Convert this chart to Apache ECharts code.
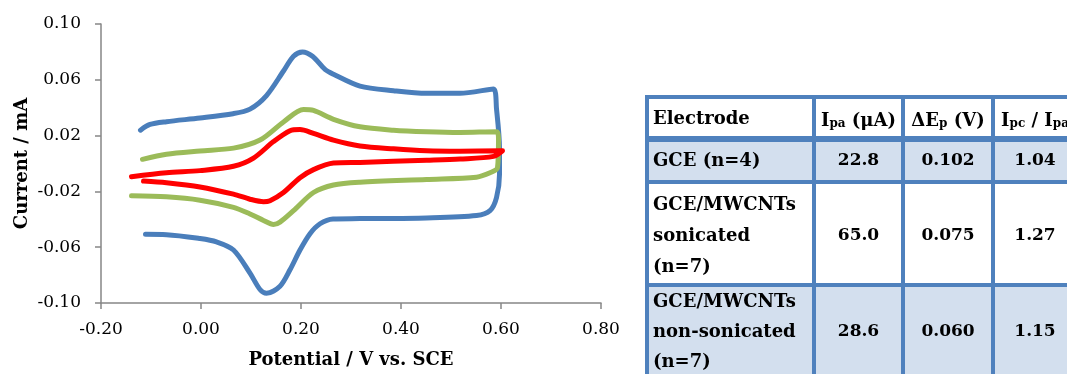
<!DOCTYPE html>
<html>
<head>
<meta charset="utf-8">
<script src="https://cdn.jsdelivr.net/npm/echarts@6/dist/echarts.min.js"></script>
<style>
html,body{margin:0;padding:0;background:#fff;}
#c{width:1067px;height:374px;}
</style>
</head>
<body>
<div id="c"></div>
<script>
// ---- CV data (Potential V vs SCE, Current mA) ----
const blueE = [-0.121, -0.102, -0.069, -0.002, 0.064, 0.098, 0.131, 0.165, 0.185, 0.203, 0.223, 0.248, 0.265, 0.318, 0.385, 0.451, 0.518, 0.585, 0.591, 0.597, 0.597, 0.591, 0.578, 0.551, 0.451, 0.318, 0.264, 0.238, 0.218, 0.198, 0.178, 0.158, 0.131, 0.118, 0.098, 0.065, 0.031, -0.002, -0.069, -0.111];
const blueI = [0.0239, 0.028, 0.030, 0.0326, 0.0357, 0.039, 0.0487, 0.0663, 0.0769, 0.080, 0.0769, 0.0675, 0.064, 0.0555, 0.0522, 0.0503, 0.0503, 0.0534, 0.0392, 0.011, -0.0079, -0.0244, -0.0338, -0.0373, -0.039, -0.0395, -0.0397, -0.0432, -0.0503, -0.062, -0.0762, -0.088, -0.0931, -0.0903, -0.0786, -0.062, -0.0562, -0.0538, -0.051, -0.0508];

const greenE = [-0.117, -0.069, -0.002, 0.065, 0.118, 0.165, 0.205, 0.225, 0.265, 0.318, 0.385, 0.451, 0.518, 0.591, 0.595, 0.593, 0.578, 0.551, 0.451, 0.318, 0.265, 0.225, 0.185, 0.158, 0.145, 0.125, 0.098, 0.065, -0.002, -0.069, -0.139];
const greenI = [0.003, 0.0067, 0.009, 0.011, 0.0168, 0.0298, 0.0387, 0.038, 0.0317, 0.0263, 0.0239, 0.0228, 0.0223, 0.0228, 0.018, -0.003, -0.0067, -0.0098, -0.0114, -0.0134, -0.0154, -0.0208, -0.0338, -0.042, -0.0437, -0.0408, -0.0362, -0.0314, -0.0263, -0.0239, -0.0232];

const redE = [-0.139, -0.069, -0.002, 0.065, 0.105, 0.145, 0.178, 0.198, 0.225, 0.265, 0.318, 0.385, 0.451, 0.518, 0.603, 0.585, 0.518, 0.451, 0.318, 0.265, 0.225, 0.198, 0.165, 0.138, 0.125, 0.098, 0.065, -0.002, -0.069, -0.115];
const redI = [-0.0095, -0.0067, -0.0051, -0.002, 0.0039, 0.0157, 0.0235, 0.0244, 0.0216, 0.0168, 0.0126, 0.0105, 0.0091, 0.0088, 0.0091, 0.0051, 0.0032, 0.0023, 0.0008, 0.0003, -0.0044, -0.0102, -0.0208, -0.0267, -0.0274, -0.0256, -0.022, -0.0168, -0.0138, -0.0126];

// ---- table data ----
const tableHeader = ['Electrode', 'I|pa| (μA)', 'ΔE|p| (V)', 'I|pc| / I|pa'];
const electrodes = ['GCE (n=4)', 'GCE/MWCNTs\nsonicated\n(n=7)', 'GCE/MWCNTs\nnon-sonicated\n(n=7)'];
const ipaVals = ['22.8', '65.0', '28.6'];
const dEpVals = ['0.102', '0.075', '0.060'];
const ratioVals = ['1.04', '1.27', '1.15'];

function pairs(xs, ys) { return xs.map((x, i) => [x, ys[i]]); }

const FONT = 'DejaVu Serif';
const chart = echarts.init(document.getElementById('c'), null, {renderer: 'canvas'});

// table geometry
const colX = [647, 814, 903, 993, 1077];
const rowY = [97, 139, 182, 285, 390];
const border = '#4f81bd';
const fillBlue = '#d3dfee';
const graphics = [];
const rowFill = ['#ffffff', fillBlue, '#ffffff', fillBlue];
for (let r = 0; r < 4; r++) {
  graphics.push({type: 'rect', silent: true, z: 1,
    shape: {x: colX[0], y: rowY[r], width: colX[4] - colX[0], height: rowY[r + 1] - rowY[r]},
    style: {fill: rowFill[r]}});
}
rowY.forEach((y, i) => {
  graphics.push({type: 'line', silent: true, z: 2,
    shape: {x1: colX[0] - 2, y1: y, x2: colX[4] + 2, y2: y},
    style: {stroke: border, lineWidth: i === 1 ? 6 : 4}});
});
colX.forEach((x) => {
  graphics.push({type: 'line', silent: true, z: 2,
    shape: {x1: x, y1: rowY[0] - 2, x2: x, y2: rowY[4]},
    style: {stroke: border, lineWidth: 4}});
});
function headerRich(s) {
  const parts = s.split('|');
  return parts.map((p, i) => (i % 2 === 1 ? '{s|' + p + '}' : '{n|' + p + '}')).join('');
}
const rich = {
  n: {fontFamily: FONT, fontSize: 18, fontWeight: 'bold', lineHeight: 24, verticalAlign: 'bottom', fill: '#000'},
  s: {fontFamily: FONT, fontSize: 12, fontWeight: 'bold', lineHeight: 14, verticalAlign: 'bottom', fill: '#000'}
};
function addText(text, x, y, align, lh, size, useRich) {
  const style = {
    text: text, x: x, y: y, fill: '#000',
    font: 'bold ' + size + 'px "' + FONT + '"',
    fontFamily: FONT, fontSize: size, fontWeight: 'bold',
    align: align, textAlign: align, verticalAlign: 'middle', textVerticalAlign: 'middle',
    lineHeight: lh
  };
  if (useRich) style.rich = rich;
  graphics.push({type: 'text', silent: true, z: 3, style: style});
}
addText(tableHeader[0], 653, 119, 'left', 24, 18, false);
for (let c = 1; c < 4; c++) {
  addText(headerRich(tableHeader[c]), (colX[c] + colX[c + 1]) / 2, 118, 'center', 24, 18, true);
}
const lineHs = [24, 31, 30];
const valueCols = [ipaVals, dEpVals, ratioVals];
for (let r = 0; r < 3; r++) {
  const cy = [161, 236, 332][r];
  addText(electrodes[r], 653, cy, 'left', lineHs[r], 18, false);
  for (let c = 0; c < 3; c++) {
    addText(valueCols[c][r], (colX[c + 1] + colX[c + 2]) / 2, cy, 'center', 24, 17, false);
  }
}

const axisColor = '#868686';
const option = {
  animation: false,
  backgroundColor: '#ffffff',
  grid: {left: 101, right: 466, top: 24, bottom: 67, containLabel: false},
  xAxis: {
    type: 'value', min: -0.2, max: 0.8, interval: 0.2,
    name: 'Potential / V vs. SCE', nameLocation: 'middle', nameGap: 48,
    nameTextStyle: {fontFamily: FONT, fontSize: 18, fontWeight: 'bold', color: '#000'},
    axisLine: {show: true, onZero: false, lineStyle: {color: axisColor, width: 1.5}},
    axisTick: {show: true, inside: false, length: 6, lineStyle: {color: axisColor, width: 1.5}},
    axisLabel: {fontFamily: FONT, fontSize: 17, color: '#000', margin: 18,
      formatter: v => v.toFixed(2)},
    splitLine: {show: false}
  },
  yAxis: {
    type: 'value', min: -0.1, max: 0.1, interval: 0.04,
    name: 'Current / mA', nameLocation: 'middle', nameGap: 70, nameRotate: 90,
    nameTextStyle: {fontFamily: FONT, fontSize: 18, fontWeight: 'bold', color: '#000'},
    axisLine: {show: true, onZero: false, lineStyle: {color: axisColor, width: 1.5}},
    axisTick: {show: true, inside: false, length: 6, lineStyle: {color: axisColor, width: 1.5}},
    axisLabel: {fontFamily: FONT, fontSize: 17, color: '#000', margin: 20,
      formatter: v => v.toFixed(2)},
    splitLine: {show: false}
  },
  series: [
    {type: 'line', data: pairs(blueE, blueI), smooth: 0.3, showSymbol: false, symbol: 'none',
      lineStyle: {color: '#4a7ebb', width: 5, cap: 'round', join: 'round'}, z: 2},
    {type: 'line', data: pairs(greenE, greenI), smooth: 0.3, showSymbol: false, symbol: 'none',
      lineStyle: {color: '#9bbb59', width: 5, cap: 'round', join: 'round'}, z: 3},
    {type: 'line', data: pairs(redE, redI), smooth: 0.3, showSymbol: false, symbol: 'none',
      lineStyle: {color: '#ff0000', width: 5, cap: 'round', join: 'round'}, z: 4}
  ],
  graphic: graphics
};
chart.setOption(option);
</script>
</body>
</html>
